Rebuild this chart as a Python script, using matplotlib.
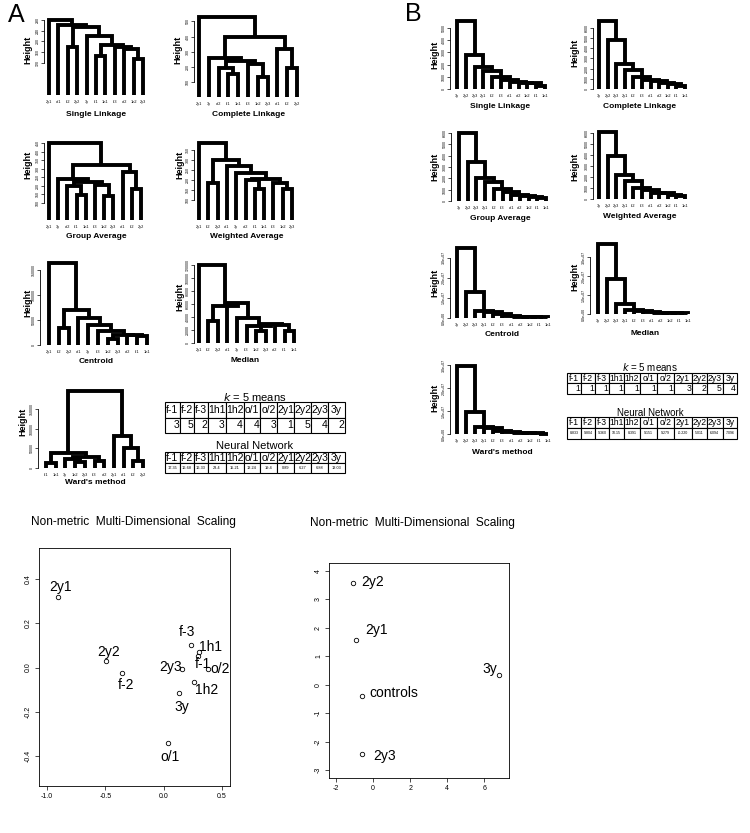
import matplotlib.pyplot as plt

W, H = 750, 833
plt.rcParams['font.family'] = ['Liberation Sans', 'DejaVu Sans']
NARROW = ['Liberation Sans Narrow', 'Liberation Sans', 'DejaVu Sans']

# ---------------- data: panel A dendrograms (leaf order, merges as (left, right, height))
a_single_order = ["2y1", "o/1", "f-2", "2y2", "3y", "f-1", "1h1", "f-3", "o/2", "1h2", "2y3"]
a_single_merges = [("1h2", "2y3", 135), ("f-1", "1h1", 147), ("o/2", 0, 172), ("f-3", 2, 178),
                   (1, 3, 187), ("3y", 4, 222), ("f-2", "2y2", 181), (6, 5, 255), ("o/1", 7, 262),
                   ("2y1", 8, 280)]
a_single_ticks = [120, 160, 200, 240, 280]

a_complete_order = ["2y1", "3y", "o/2", "f-1", "1h1", "f-3", "1h2", "2y3", "o/1", "f-2", "2y2"]
a_complete_merges = [("f-1", "1h1", 151), ("o/2", 0, 193), ("1h2", "2y3", 129), ("f-3", 2, 218),
                     (1, 3, 238), ("3y", 4, 255), ("f-2", "2y2", 193), ("o/1", 6, 318), (5, 7, 400),
                     ("2y1", 8, 529)]
a_complete_ticks = [100, 200, 300, 400, 500]

a_group_order = ["2y1", "3y", "o/2", "f-1", "1h1", "f-3", "1h2", "2y3", "o/1", "f-2", "2y2"]
a_group_merges = [("f-1", "1h1", 146), ("o/2", 0, 200), ("1h2", "2y3", 140), ("f-3", 2, 206),
                  (1, 3, 224), ("3y", 4, 240), ("f-2", "2y2", 180), ("o/1", 6, 280), (5, 7, 320),
                  ("2y1", 8, 450)]
a_group_ticks = [100, 150, 200, 250, 300, 350, 400, 450]

a_weighted_order = ["2y1", "f-2", "2y2", "o/1", "3y", "o/2", "f-1", "1h1", "f-3", "1h2", "2y3"]
a_weighted_merges = [("f-2", "2y2", 186), ("f-1", "1h1", 155), ("o/2", 1, 198), ("1h2", "2y3", 155),
                     ("f-3", 3, 186), (2, 4, 203), ("3y", 5, 234), ("o/1", 6, 269), (0, 7, 298),
                     ("2y1", 8, 384)]
a_weighted_ticks = [100, 150, 200, 250, 300, 350]

a_centroid_order = ["2y1", "f-2", "2y2", "o/1", "3y", "f-3", "1h2", "2y3", "o/2", "f-1", "1h1"]
a_centroid_merges = [("1h2", "2y3", 13000), ("f-1", "1h1", 18000), ("o/2", 1, 20000), (0, 2, 21000),
                     ("f-3", 3, 28500), ("3y", 4, 41000), ("o/1", 5, 54000), ("f-2", "2y2", 34000),
                     (7, 6, 70000), ("2y1", 8, 165000)]
a_centroid_ticks = [0, 50000, 100000, 150000]

a_median_order = ["2y1", "f-2", "2y2", "o/1", "3y", "f-3", "1h2", "2y3", "o/2", "f-1", "1h1"]
a_median_merges = [("1h2", "2y3", 18000), ("f-1", "1h1", 18000), ("o/2", 1, 27000), (0, 2, 29000),
                   ("f-3", 3, 26000), ("3y", 4, 38000), ("o/1", 5, 62000), ("f-2", "2y2", 34000),
                   (7, 6, 57000), ("2y1", 8, 120000)]
a_median_ticks = [0, 20000, 40000, 60000, 80000, 100000, 120000]

a_ward_order = ["f-1", "1h1", "3y", "1h2", "2y3", "f-3", "o/2", "2y1", "o/1", "f-2", "2y2"]
a_ward_merges = [("f-1", "1h1", 13000), ("1h2", "2y3", 15500), ("3y", 1, 24000), ("f-3", "o/2", 19000),
                 (2, 3, 27600), (0, 4, 38800), ("f-2", "2y2", 19000), ("o/1", 6, 51700),
                 ("2y1", 7, 82000), (5, 8, 196500)]
a_ward_ticks = [0, 50000, 100000, 150000]

# ---------------- data: panel B dendrograms (chain-like; heights from bottom merge to top)
b_order = ["3y", "2y2", "2y3", "2y1", "f-2", "f-3", "o/1", "o/2", "1h2", "f-1", "1h1"]
b_single_h = [220, 470, 490, 600, 760, 970, 1510, 1840, 2780, 5570]
b_complete_h = [260, 520, 580, 740, 900, 1160, 1870, 2450, 4840, 6650]
b_group_h = [300, 360, 450, 550, 800, 1070, 1700, 2050, 3400, 6000]
b_weighted_h = [250, 400, 500, 550, 850, 1000, 1600, 2200, 3900, 6050]
b_centroid_h = [3.0e5, 3.0e5, 3.2e5, 7.0e5, 1.2e6, 2.0e6, 2.8e6, 3.7e6, 1.28e7, 3.48e7]
b_median_h = [3.0e5, 3.0e5, 4.0e5, 6.0e5, 1.0e6, 1.7e6, 2.3e6, 5.5e6, 1.87e7, 3.70e7]
b_ward_h = [2.0e5, 3.0e5, 4.0e5, 5.0e5, 8.0e5, 1.4e6, 2.6e6, 3.0e6, 9.7e6, 2.97e7]
b_ticks_small = [0, 1000, 2000, 3000, 4000, 5000]
b_ticks_6k = [0, 1000, 2000, 3000, 4000, 5000, 6000]
b_ticks_big = [0, 1.0e7, 2.0e7, 3.0e7]

# ---------------- data: tables
samples = ["f-1", "f-2", "f-3", "1h1", "1h2", "o/1", "o/2", "2y1", "2y2", "2y3", "3y"]
a_kmeans = [3, 5, 2, 3, 4, 4, 3, 1, 5, 4, 2]
a_nn = ["17.35", "16.68", "16.33", "23.4", "15.21", "13.24", "19.4", "0.89", "6.27", "6.88", "13.03"]
b_kmeans = [1, 1, 1, 1, 1, 1, 1, 3, 2, 5, 4]
b_nn = ["8.833", "9.804", "9.360", "10.15", "8.391", "9.151", "9.279", "-0.220", "5.011", "6.094", "7.096"]

# ---------------- data: NMDS
nm_a_labels = ["2y1", "2y2", "f-2", "f-3", "1h1", "f-1", "o/2", "2y3", "1h2", "3y", "o/1"]
nm_a_x = [-0.909, -0.496, -0.356, 0.233, 0.304, 0.298, 0.380, 0.159, 0.259, 0.127, 0.033]
nm_a_y = [0.317, 0.030, -0.023, 0.100, 0.072, 0.050, -0.008, -0.008, -0.065, -0.113, -0.341]
nm_b_labels = ["2y2", "2y1", "controls", "2y3", "3y"]
nm_b_x = [-1.09, -0.90, -0.59, -0.59, 6.81]
nm_b_y = [3.56, 1.58, -0.41, -2.45, 0.33]

fig = plt.figure(figsize=(7.5, 8.33), dpi=100)


def px_ax(l, t, r, b):
    return fig.add_axes([l / W, 1 - b / H, (r - l) / W, (b - t) / H])


def ftext(x, y, s, **kw):
    return fig.text(x / W, 1 - y / H, s, ha='center', va='center', **kw)


def chain(order, heights):
    # the last two leaves join first, then each leaf to the left joins the cluster on its right
    merges = [(order[-2], order[-1], heights[0])]
    for i, h in enumerate(heights[1:]):
        merges.append((order[-3 - i], i, h))
    return merges


def sci(v):
    return f"{v:.1e}"


def dendro(order, merges, ticks, box, spine_x, title, title_xy, height_xy, fmt=str, lw=2.8):
    l, t, r, b = box
    ax = px_ax(l, t, r, b)
    pos = {lab: i for i, lab in enumerate(order)}
    xs, hs = [], []

    def node(c):
        if isinstance(c, str):
            return pos[c], 0
        return xs[c], hs[c]

    for a, c, h in merges:
        xa, ya = node(a)
        xb, yb = node(c)
        ax.plot([xa, xa, xb, xb], [ya, h, h, yb], color='black', lw=lw,
                solid_joinstyle='miter', solid_capstyle='butt', clip_on=False)
        xs.append((xa + xb) / 2)
        hs.append(h)
    ax.set_xlim(0, len(order) - 1)
    ax.set_ylim(0, max(hs))
    for s in ['top', 'right', 'bottom']:
        ax.spines[s].set_visible(False)
    ax.spines['left'].set_position(('outward', (l - spine_x) * 0.72))
    ax.spines['left'].set_bounds(ticks[0], ticks[-1])
    ax.spines['left'].set_linewidth(0.6)
    ax.set_yticks(ticks, [fmt(v) for v in ticks])
    ax.tick_params(axis='y', labelsize=2.6, length=2, width=0.5, pad=0.8, labelrotation=90)
    for lab in ax.get_yticklabels():
        lab.set_va('center')
    ax.set_xticks(range(len(order)), order)
    ax.tick_params(axis='x', labelsize=2.8, length=0, pad=3.5)
    ax.patch.set_visible(False)
    ftext(title_xy[0], title_xy[1], title, fontsize=6, fontweight='bold')
    ftext(height_xy[0], height_xy[1], "Height", fontsize=6.5, fontweight='bold', rotation=90)


def table(box, header, values, head_fs, val_fs, val_ha, widths, row_frac=0.5):
    l, t, r, b = box
    ax = px_ax(l, t, r, b)
    ax.axis('off')
    tb = ax.table(cellText=[header, [str(v) for v in values]], colWidths=widths,
                  cellLoc='center', bbox=[0, 0, 1, 1])
    tb.auto_set_font_size(False)
    for (row, col), cell in tb.get_celld().items():
        cell.set_linewidth(0.8)
        cell.PAD = 0.06
        cell.get_text().set_fontsize(head_fs if row == 0 else val_fs)
        cell.set_height(row_frac if row == 0 else 1 - row_frac)
        if row == 1:
            cell._loc = val_ha
            cell.get_text().set_ha(val_ha)


# ---------------- panel A
ftext(16, 15, "A", fontsize=18)
dendro(a_single_order, a_single_merges, a_single_ticks, (49, 20, 143, 95), 44,
       "Single Linkage", (96, 115), (28, 50))
dendro(a_complete_order, a_complete_merges, a_complete_ticks, (199, 17, 297, 97), 194,
       "Complete Linkage", (249, 115), (178, 50))
dendro(a_group_order, a_group_merges, a_group_ticks, (49, 143, 141, 220), 44,
       "Group Average", (96, 237), (28, 165))
dendro(a_weighted_order, a_weighted_merges, a_weighted_ticks, (199, 143, 292, 220), 194,
       "Weighted Average", (247, 237), (180, 165))
dendro(a_centroid_order, a_centroid_merges, a_centroid_ticks, (49, 263, 147, 345), 40,
       "Centroid", (96, 362), (28, 303))
dendro(a_median_order, a_median_merges, a_median_ticks, (199, 265, 294, 343), 194,
       "Median", (245, 360), (180, 297))
dendro(a_ward_order, a_ward_merges, a_ward_ticks, (46, 391, 143, 468), 38,
       "Ward's method", (95, 482), (23, 422))

a_widths = [15, 14, 14, 18, 18, 17, 17, 17, 17, 17, 17]
ftext(255, 397, "$k$ = 5 means", fontsize=8)
table((165, 402, 345, 433), samples, a_kmeans, 7.5, 7.5, 'right', a_widths)
ftext(255, 446, "Neural Network", fontsize=8)
table((165, 452, 345, 473), samples, a_nn, 7.5, 2.8, 'center', a_widths, row_frac=0.54)

# ---------------- panel B
ftext(413, 14, "B", fontsize=18)
dendro(b_order, chain(b_order, b_single_h), b_ticks_small, (457, 21, 545, 89), 450,
       "Single Linkage", (500, 106), (435, 55))
dendro(b_order, chain(b_order, b_complete_h), b_ticks_6k, (599, 21, 685, 89), 593,
       "Complete Linkage", (640, 107), (575, 53))
dendro(b_order, chain(b_order, b_group_h), b_ticks_6k, (459, 133, 546, 201), 451,
       "Group Average", (500, 219), (435, 167))
dendro(b_order, chain(b_order, b_weighted_h), b_ticks_6k, (599, 132, 685, 199), 593,
       "Weighted Average", (640, 217), (575, 167))
dendro(b_order, chain(b_order, b_centroid_h), b_ticks_big, (457, 248, 548, 318), 450,
       "Centroid", (502, 334), (435, 283), fmt=sci)
dendro(b_order, chain(b_order, b_median_h), b_ticks_big, (598, 244, 688, 314), 590,
       "Median", (645, 333), (575, 277), fmt=sci)
dendro(b_order, chain(b_order, b_ward_h), b_ticks_big, (457, 365, 548, 434), 450,
       "Ward's method", (502, 452), (435, 398), fmt=sci)

b_widths = [43, 42, 42, 43, 50, 50, 50, 55, 45, 47, 43]
ftext(650, 367, "$k$ = 5 means", fontsize=7)
table((567, 373, 737, 394), samples, b_kmeans, 6.2, 6.2, 'right', b_widths)
ftext(650, 413, "Neural Network", fontsize=7)
table((567, 417, 737, 439), samples, b_nn, 6.2, 2.6, 'center', b_widths)


# ---------------- NMDS scatter plots
def nmds(box, xs, ys, labels, offsets, xlim, ylim, xticks, yticks, xfmt, yfmt, title_xy):
    ax = px_ax(*box)
    ax.plot(xs, ys, 'o', ms=3.2, mfc='none', mec='black', mew=0.6)
    for x, y, lab in zip(xs, ys, labels):
        dx, dy = offsets[lab]
        ax.annotate(lab, (x, y), xytext=(dx * 0.72, dy * 0.72), textcoords='offset points',
                    ha='center', va='center', fontsize=10, family=NARROW)
    ax.set_xlim(*xlim)
    ax.set_ylim(*ylim)
    ax.set_xticks(xticks, [xfmt(v) for v in xticks])
    ax.set_yticks(yticks, [yfmt(v) for v in yticks])
    ax.tick_params(labelsize=5, length=3, width=0.5, pad=2)
    ax.tick_params(axis='y', labelrotation=90)
    for lab in ax.get_yticklabels() + ax.get_xticklabels():
        lab.set_family(NARROW)
    for lab in ax.get_yticklabels():
        lab.set_va('center')
    for s in ax.spines.values():
        s.set_linewidth(0.6)
    ftext(title_xy[0], title_xy[1], "Non-metric  Multi-Dimensional  Scaling", fontsize=8.6, family=NARROW)


a_offsets = {"2y1": (3, 10), "2y2": (3, 9), "f-2": (4, -12), "f-3": (-4, 13), "1h1": (11, 5),
             "f-1": (4, -8), "o/2": (12, 0), "2y3": (-12, 2), "1h2": (13, -8), "3y": (3, -14),
             "o/1": (2, -14)}
nmds((39, 548, 230, 786), nm_a_x, nm_a_y, nm_a_labels, a_offsets, (-1.068, 0.568), (-0.535, 0.54),
     [-1.0, -0.5, 0.0, 0.5], [-0.4, -0.2, 0.0, 0.2, 0.4],
     lambda v: f"{v:.1f}", lambda v: f"{v:.1f}", (133, 522))

b_offsets = {"2y2": (20, 1), "2y1": (20, 10), "controls": (32, 3), "2y3": (22, -2), "3y": (-9, 6)}
nmds((329, 563, 509, 778), nm_b_x, nm_b_y, nm_b_labels, b_offsets, (-2.38, 7.34), (-3.28, 4.28),
     [-2, 0, 2, 4, 6], [-3, -2, -1, 0, 1, 2, 3, 4],
     lambda v: f"{v:d}", lambda v: f"{v:d}", (412, 523))

fig.savefig("out.png", dpi=100)
